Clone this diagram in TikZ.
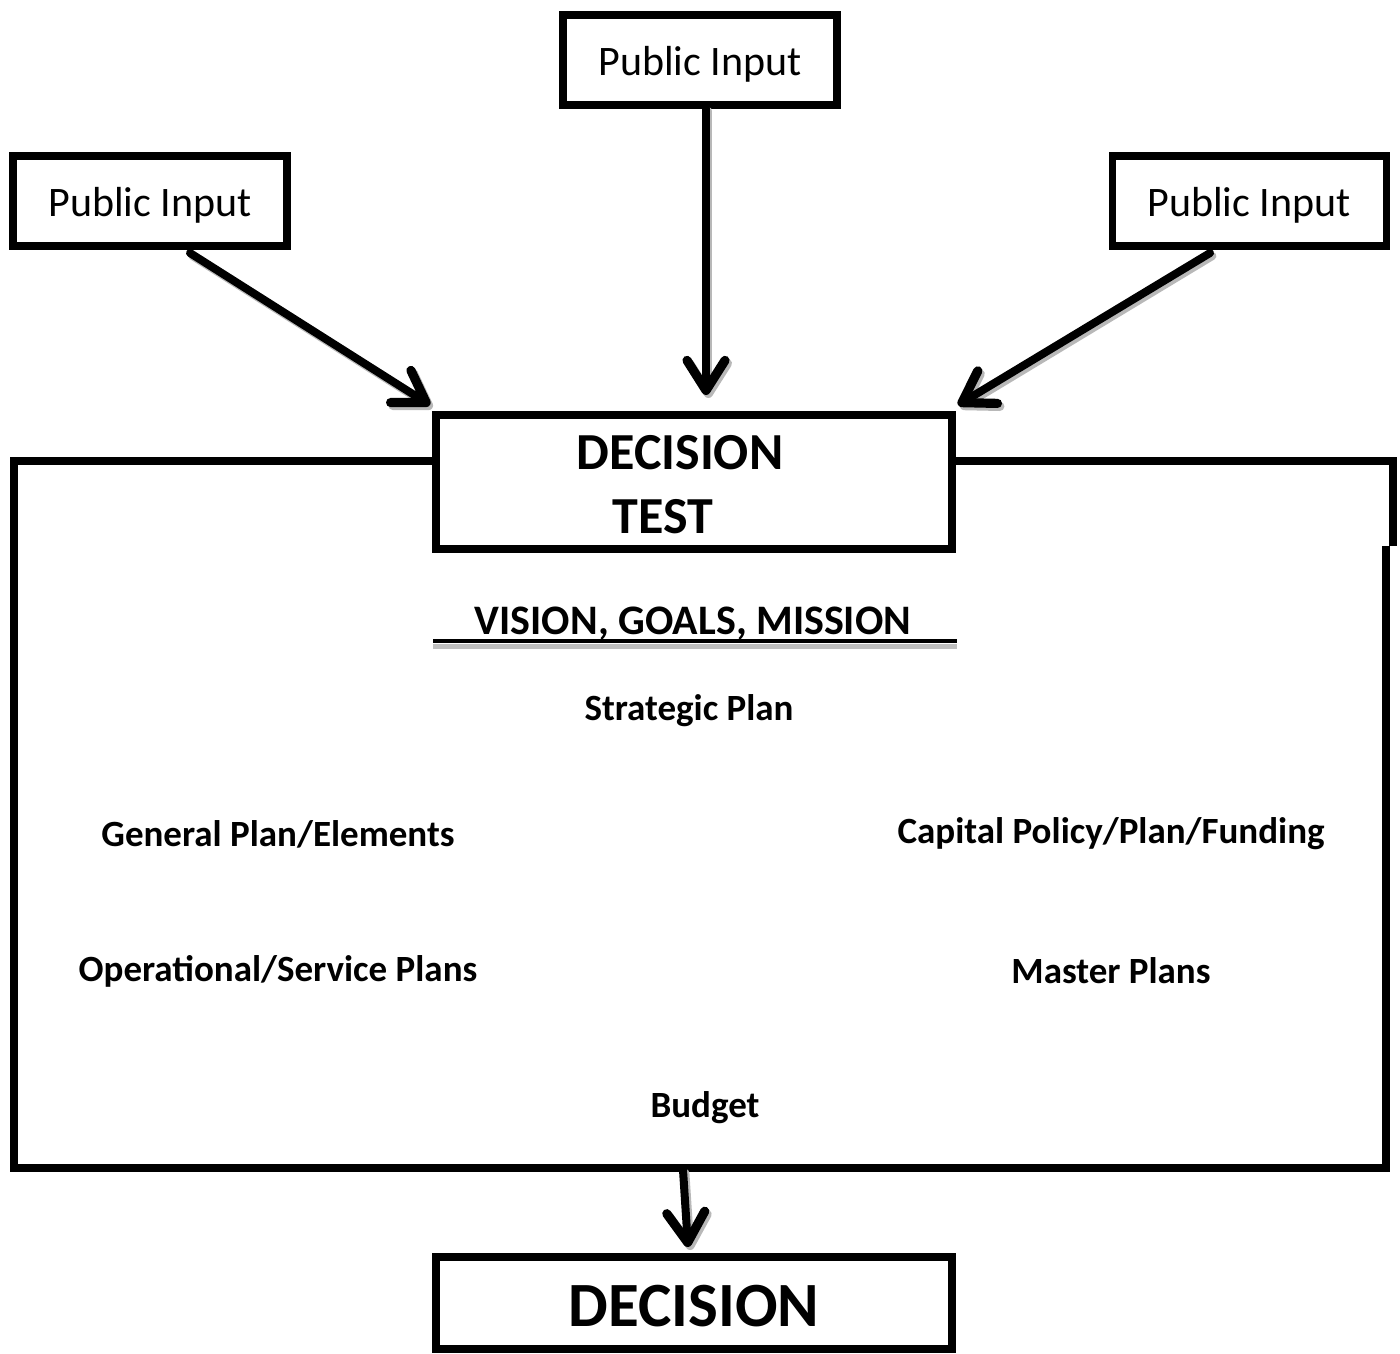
\documentclass[tikz,border=0pt]{standalone}
\usepackage{fontspec}
\setmainfont{Carlito}
\usetikzlibrary{arrows.meta,calc}

\begin{document}
\begin{tikzpicture}[x=0.5pt,y=-0.5pt,
  frameline/.style={line width=3.6pt},
  box/.style={draw,frameline,rectangle,outer sep=0pt,inner sep=0pt},
  inbox/.style={box,minimum width=137pt,minimum height=45pt},
  bigbox/.style={box,minimum width=258pt,minimum height=67pt},
  flow/.style={line width=4pt,line cap=round,
    -{Straight Barb[length=15pt,width=19pt,line width=4.6pt,line cap=round,line join=round]}},
  flowshadow/.style={flow,draw=black!28,transform canvas={xshift=1.2pt,yshift=-1.5pt}},
  plain/.style={font=\fontsize{21}{25}\selectfont,inner sep=0pt},
  label/.style={font=\bfseries\fontsize{18.5}{22}\selectfont,inner sep=0pt}]

\useasboundingbox (0,0) rectangle (1400,1353);

% input boxes
\node[inbox] (inTop)   at (700,60)    {};
\node[inbox] (inLeft)  at (150,201)   {};
\node[inbox] (inRight) at (1249.5,201) {};
\node[plain] (tTop)   at (700,64)  {Public Input};
\node[plain] (tLeft)  at (150,205) {Public Input};
\node[plain] (tRight) at (1249,205) {Public Input};

% decision test box
\node[bigbox] (test) at (694,482) {};
\node[font=\bfseries\fontsize{26}{30}\selectfont,inner sep=0pt] (testA) at (680,453) {DECISION};
\node[font=\bfseries\fontsize{26}{30}\selectfont,inner sep=0pt] (testB) at (663,517) {TEST};

% enclosing frame, open where the test box sits on it
\draw[frameline,line join=miter] (test.west |- 0,461) -- (14,461) -- (14,1168)
  -- (1386,1168) -- (1386,546);
\draw[frameline,line join=miter] (test.east |- 0,461) -- (1393,461) -- (1393,546);
\coordinate (frameBottom) at (683,1170);

% contents of the frame
\node[font=\bfseries\fontsize{21}{25}\selectfont,inner sep=0pt] (vision) at (693,624) {VISION, GOALS, MISSION};
\draw[line width=2.5pt,draw=black!25] (433,646) -- (957,646);
\draw[line width=2.2pt] (433,641) -- (957,641);
\node[label] (strategic) at (689,711)  {Strategic Plan};
\node[label] (general)   at (278,834)  {General Plan/Elements};
\node[label] (capital)   at (1111,834) {Capital Policy/Plan/Funding};
\node[label] (oper)      at (278,971)  {Operational/Service Plans};
\node[label] (master)    at (1111,971) {Master Plans};
\node[label] (budget)    at (705,1108) {Budget};

% final decision box
\node[bigbox,minimum height=46pt] (decision) at (694,1303) {};
\node[font=\bfseries\fontsize{31.5}{36}\selectfont,inner sep=0pt] (decText) at (694,1306) {DECISION};

% input arrows, each with a soft grey shadow underneath
\draw[flowshadow] ($(inLeft.south)+(40,7)$) -- ($(test.north west)+(-6,-10)$);
\draw[flowshadow] ($(inTop.south)+(6,3)$) -- ($(test.north)+(12,-20)$);
\draw[flowshadow] ($(inRight.south)+(-39.5,7)$) -- ($(test.north east)+(6,-10)$);
\draw[flowshadow] (frameBottom) -- ($(decision.north)+(-6,-10)$);
\draw[flow] ($(inLeft.south)+(40,7)$) -- ($(test.north west)+(-6,-10)$);
\draw[flow] ($(inTop.south)+(6,3)$) -- ($(test.north)+(12,-20)$);
\draw[flow] ($(inRight.south)+(-39.5,7)$) -- ($(test.north east)+(6,-10)$);
\draw[flow] (frameBottom) -- ($(decision.north)+(-6,-10)$);
\end{tikzpicture}
\end{document}
